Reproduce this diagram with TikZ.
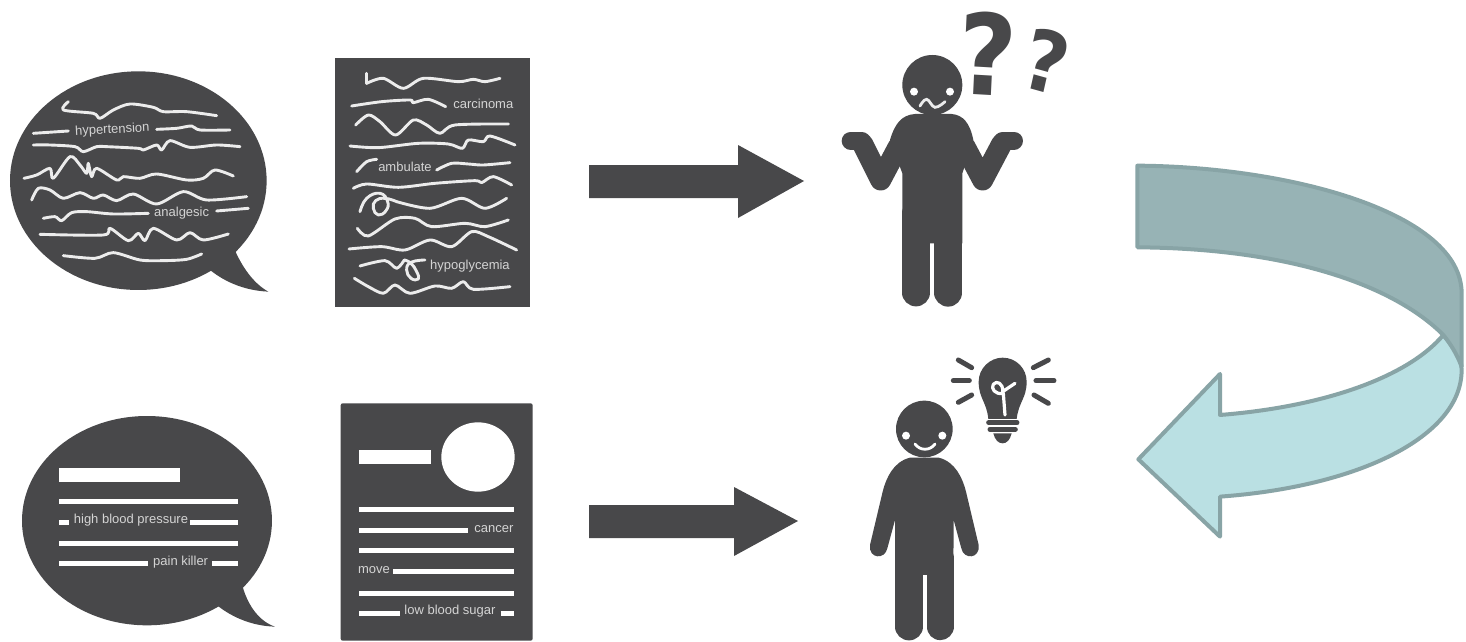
\documentclass[tikz,border=0pt]{standalone}
\usepackage{fontspec}
\setmainfont{Liberation Sans}
\newfontfamily\qfont{DejaVu Sans}
\definecolor{ink}{HTML}{48484A}
\definecolor{paper}{HTML}{ECECEC}
\definecolor{labelgrey}{HTML}{D4D4D4}
\definecolor{tealdark}{HTML}{97B3B5}
\definecolor{teallight}{HTML}{BAE0E3}
\definecolor{tealedge}{HTML}{88A4A6}
\tikzset{
  icon/.style={fill=ink,draw=none},
  wig/.style={draw=paper,line width=2.9pt,line cap=round,line join=round},
  bar/.style={draw=white,line width=5pt},
  limb/.style={draw=ink,line cap=round,line join=round},
  lab/.style={text=labelgrey,font=\fontsize{13}{13}\selectfont,inner sep=0pt},
  blockarrow/.style={fill=ink,draw=none},
  ribbon/.style={draw=tealedge,line width=4pt,line join=round},
  qmark/.style={text=ink,inner sep=0pt}
}
\def\wg#1{\draw[wig] plot[smooth,tension=.5] coordinates {#1};}
\def\wgr#1{\draw[wig] plot[smooth,tension=.8] coordinates {#1};}
\begin{document}
\begin{tikzpicture}[x=1pt,y=-1pt]
\useasboundingbox (0,0) rectangle (1466,642);
\fill[white] (0,0) rectangle (1466,642);

% ---------- speech bubble 1
\begin{scope}[shift={(0,50)},x=.3333pt,y=-.3333pt]
\fill[icon] (415,392) ellipse [x radius=385,y radius=328];
\fill[icon] (700,590) .. controls (725,650) and (760,700) .. (805,725) .. controls (740,722) and (680,700) .. (630,660) -- cycle;
\wg{(205,155)(190,180)(280,190)(300,205)(340,180)(390,162)(460,172)(490,185)(560,185)(650,197)}
\wg{(100,250)(205,243)}
\wg{(470,238)(530,235)(575,228)(600,240)(690,240)}
\wg{(100,285)(150,285)(225,290)(250,305)(290,290)(320,290)(415,295)(430,300)(470,285)(485,300)(510,272)(570,292)(650,285)(720,290)}
\wg{(72,385)(110,375)(150,355)(160,385)(210,320)(240,345)(260,370)(265,340)(275,380)(290,355)(350,390)(370,380)(420,385)(470,372)(560,390)(610,385)(645,360)(700,378)}
\wg{(95,450)(115,415)(150,420)(190,445)(240,428)(280,445)(310,435)(350,452)(400,432)(470,462)(550,425)(620,450)(740,440)}
\wg{(130,505)(165,500)(185,512)(215,488)(260,485)(340,492)(445,490)}
\wg{(650,483)(745,475)}
\wg{(120,553)(310,555)(330,535)(385,572)(415,550)(435,572)(460,535)(530,570)(570,548)(610,570)(685,552)}
\wg{(190,617)(285,625)(340,608)(420,630)(490,632)(560,628)(605,612)}
\node[lab,rotate=3] (hyper) at (337,240) {hypertension};
\node[lab] (analg) at (545,488) {analgesic};
\end{scope}

% ---------- sheet 1
\begin{scope}[shift={(325,50)},x=.3333pt,y=-.3333pt]
\fill[icon] (30,25) rectangle (615,770);
\draw[wig] (125,70) -- (125,100);
\wg{(125,100)(175,85)(235,115)(295,85)(400,95)(445,88)(480,95)(525,85)}
\wg{(80,168)(170,155)(255,150)(265,158)(310,148)(362,170)}
\wg{(92,225)(130,195)(165,215)(212,255)(265,210)(305,225)(345,250)(390,225)(550,222)}
\wg{(75,288)(160,293)(280,280)(370,282)(412,295)(430,270)(475,275)(495,258)(570,285)}
\wg{(95,365)(125,335)(155,328)}
\wg{(335,360)(380,340)(430,342)(475,345)(555,338)}
\wg{(85,415)(125,402)(220,412)(330,400)(450,392)(470,398)(505,380)(560,405)}
\wgr{(105,485)(125,445)(165,430)(188,455)(183,482)(160,495)(145,475)(152,452)(180,445)(215,455)}
\wg{(215,455)(315,475)(410,445)(480,475)(545,445)}
\wg{(97,535)(130,558)(210,507)(270,505)(320,530)(420,520)(480,530)(550,510)}
\wg{(72,597)(170,590)(240,600)(315,570)(380,590)(440,545)(490,560)(575,600)}
\wg{(105,648)(180,632)(215,655)(238,630)}
\wgr{(238,630)(258,640)(275,665)(280,687)(258,685)(245,660)(258,637)(300,630)}
\wg{(88,685)(130,710)(175,730)(210,705)(255,730)(330,708)(380,715)(415,695)(445,718)(555,710)}
\node[lab] (carc) at (475,163) {carcinoma};
\node[lab] (ambu) at (240,352) {ambulate};
\node[lab] (hypo) at (435,648) {hypoglycemia};
\end{scope}

% ---------- block arrows
\fill[blockarrow] (589,165) -- (738,165) -- (738,145) -- (804,181) -- (738,218) -- (738,198) -- (589,198) -- cycle;
\fill[blockarrow] (589,505) -- (734,505) -- (734,487) -- (798,521) -- (734,556) -- (734,538) -- (589,538) -- cycle;

% ---------- puzzled person
\begin{scope}[shift={(830,0)},x=.3333pt,y=-.3333pt]
\fill[icon] (307,255) circle [radius=90];
\fill[white] (252,275) circle [radius=12];
\fill[white] (360,275) circle [radius=12];
\draw[draw=paper,line width=2.8pt,line cap=round] plot[smooth,tension=.7] coordinates {(270,318)(290,298)(315,322)(345,305)};
\fill[icon] (255,342) -- (365,342) .. controls (400,345) and (420,370) .. (430,420) -- (397,520) -- (397,730) -- (217,730) -- (217,520) -- (180,420) .. controls (195,370) and (215,345) .. (255,342) -- cycle;
\draw[limb,line width=18pt] (62,422) -- (95,422);
\draw[limb,line width=18pt] (552,422) -- (518,422);
\draw[limb,line width=21pt] (98,432) -- (152,540) -- (205,440);
\draw[limb,line width=21pt] (515,432) -- (458,540) -- (405,440);
\draw[limb,line width=27.5pt] (258,640) -- (258,878);
\draw[limb,line width=28pt] (355,640) -- (355,878);
\node[qmark,font=\qfont\bfseries\fontsize{112}{112}\selectfont,xscale=.9,rotate=-3] (q1) at (472,160) {?};
\node[qmark,font=\qfont\bfseries\fontsize{84}{84}\selectfont,xscale=.9,rotate=-14] (q2) at (650,182) {?};
\end{scope}

% ---------- enlightened person
\begin{scope}[shift={(860,345)},x=.3333pt,y=-.3333pt]
\fill[icon] (193,252) circle [radius=85];
\fill[white] (138,272) circle [radius=12];
\fill[white] (247,272) circle [radius=12];
\draw[draw=white,line width=2.8pt,line cap=round] (165,297) .. controls (180,318) and (210,318) .. (225,297);
\fill[icon] (150,338) .. controls (100,350) and (78,400) .. (68,440) -- (30,600) .. controls (25,642) and (75,645) .. (82,610) -- (105,525) -- (105,690) -- (280,690) -- (281,525) -- (304,610) .. controls (311,645) and (361,642) .. (356,600) -- (318,440) .. controls (308,400) and (286,350) .. (236,338) -- cycle;
\draw[limb,line width=27.5pt] (147,640) -- (147,845);
\draw[limb,line width=27pt] (240,640) -- (240,845);
% bulb
\fill[icon] (385,222) .. controls (380,170) and (356,160) .. (356,110) .. controls (356,70) and (390,38) .. (428,38) .. controls (468,38) and (500,70) .. (500,110) .. controls (500,160) and (476,170) .. (470,222) -- cycle;
\draw[draw=white,line width=3.2pt,line cap=round,line join=round] (435,210) -- (430,145) .. controls (405,150) and (392,130) .. (400,118) .. controls (410,105) and (430,115) .. (428,140) -- (465,115);
\draw[limb,line width=5pt] (386,233) -- (471,233);
\draw[limb,line width=5pt] (390,253) -- (466,253);
\fill[icon] (400,265) -- (455,265) .. controls (450,285) and (440,295) .. (428,295) .. controls (415,295) and (405,285) .. (400,265) -- cycle;
\draw[limb,line width=5pt] (295,45) -- (335,68);
\draw[limb,line width=5pt] (280,107) -- (328,107);
\draw[limb,line width=5pt] (295,172) -- (335,150);
\draw[limb,line width=5pt] (520,68) -- (565,45);
\draw[limb,line width=5pt] (528,107) -- (582,107);
\draw[limb,line width=5pt] (522,150) -- (565,175);
\end{scope}

% ---------- speech bubble 2
\begin{scope}[shift={(0,400)},x=.3333pt,y=-.3333pt]
\fill[icon] (441,362) ellipse [x radius=375,y radius=314];
\fill[icon] (728,560) .. controls (745,620) and (780,665) .. (825,680) .. controls (760,678) and (700,655) .. (650,615) -- cycle;
\fill[white] (178,203) rectangle (540,245);
\draw[bar] (178,305) -- (715,305);
\draw[bar] (178,367) -- (208,367);
\draw[bar] (570,367) -- (715,367);
\draw[bar] (178,430) -- (715,430);
\draw[bar] (178,490) -- (445,490);
\draw[bar] (637,490) -- (715,490);
\node[lab] (hbp) at (393,360) {high blood pressure};
\node[lab] (pk) at (542,486) {pain killer};
\end{scope}

% ---------- sheet 2
\begin{scope}[shift={(330,395)},x=.3333pt,y=-.3333pt]
\fill[icon,rounded corners=2pt] (32,25) rectangle (608,737);
\fill[white] (87,165) rectangle (303,208);
\fill[white] (444,186) ellipse [x radius=110,y radius=104];
\draw[bar] (87,345) -- (553,345);
\draw[bar] (87,406) -- (415,406);
\draw[bar] (87,468) -- (553,468);
\draw[bar] (190,530) -- (553,530);
\draw[bar] (87,595) -- (553,595);
\draw[bar] (87,655) -- (210,655);
\draw[bar] (512,655) -- (553,655);
\node[lab] (canc) at (492,402) {cancer};
\node[lab] (move) at (132,525) {move};
\node[lab] (lbs) at (360,647) {low blood sugar};
\end{scope}

% ---------- turning ribbon arrow
\begin{scope}[shift={(1125,150)},x=.3333pt,y=-.3333pt]
\filldraw[ribbon,fill=teallight] (955,555) .. controls (985,590) and (1010,620) .. (1010,660) .. controls (1010,860) and (700,1010) .. (285,1040) -- (285,1160) -- (40,928) -- (285,672) -- (285,795) .. controls (600,770) and (850,680) .. (955,555) -- cycle;
\filldraw[ribbon,fill=tealdark] (37,47) .. controls (500,50) and (1010,190) .. (1010,430) -- (1010,650) .. controls (995,610) and (975,580) .. (955,555) .. controls (800,400) and (480,295) .. (37,292) -- cycle;
\end{scope}
\end{tikzpicture}
\end{document}
